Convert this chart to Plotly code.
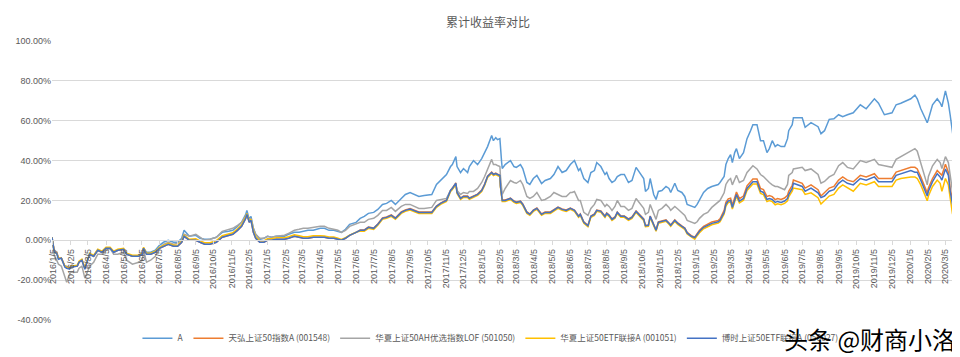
import plotly.graph_objects as go

title_text = "累计收益率对比"
series_names = ["A", "天弘上证50指数A (001548)", "华夏上证50AH优选指数LOF (501050)",
                "华夏上证50ETF联接A (001051)", "博时上证50ETF联接A (050027)"]
series_colors = ["#5B9BD5", "#ED7D31", "#A5A5A5", "#FFC000", "#4472C4"]

dates = [
    "2016-01-04", "2016-01-06", "2016-01-08", "2016-01-12", "2016-01-15", "2016-01-20", "2016-01-26", "2016-01-29",
    "2016-02-03", "2016-02-05", "2016-02-16", "2016-02-19", "2016-02-24", "2016-02-29", "2016-03-03", "2016-03-08",
    "2016-03-15", "2016-03-22", "2016-03-29", "2016-04-05", "2016-04-12", "2016-04-18", "2016-04-25", "2016-05-05",
    "2016-05-10", "2016-05-20", "2016-05-31", "2016-06-06", "2016-06-08", "2016-06-13", "2016-06-20", "2016-06-28",
    "2016-07-05", "2016-07-12", "2016-07-20", "2016-07-29", "2016-08-05", "2016-08-12", "2016-08-16", "2016-08-25",
    "2016-09-05", "2016-09-12", "2016-09-20", "2016-09-29", "2016-10-10", "2016-10-20", "2016-10-31", "2016-11-07",
    "2016-11-15", "2016-11-22", "2016-11-29", "2016-12-01", "2016-12-05", "2016-12-08", "2016-12-12", "2016-12-16",
    "2016-12-23", "2016-12-30",
    "2017-01-05", "2017-01-12", "2017-01-20", "2017-02-03", "2017-02-10", "2017-02-20", "2017-02-28", "2017-03-07",
    "2017-03-15", "2017-03-24", "2017-04-05", "2017-04-12", "2017-04-20", "2017-04-28", "2017-05-05", "2017-05-11",
    "2017-05-18", "2017-05-25", "2017-06-05", "2017-06-12", "2017-06-19", "2017-06-26", "2017-07-05", "2017-07-12",
    "2017-07-20", "2017-07-27", "2017-08-04", "2017-08-11", "2017-08-21", "2017-08-28", "2017-09-05", "2017-09-12",
    "2017-09-20", "2017-09-29", "2017-10-12", "2017-10-20", "2017-10-27", "2017-11-06", "2017-11-13", "2017-11-16",
    "2017-11-22", "2017-11-24", "2017-11-30", "2017-12-05", "2017-12-12", "2017-12-15", "2017-12-22", "2017-12-29",
    "2018-01-05", "2018-01-10", "2018-01-15", "2018-01-22", "2018-01-25", "2018-01-29", "2018-02-01", "2018-02-05",
    "2018-02-06", "2018-02-08", "2018-02-09", "2018-02-14", "2018-02-23", "2018-03-01", "2018-03-05", "2018-03-12",
    "2018-03-16", "2018-03-23", "2018-03-28", "2018-04-03", "2018-04-09", "2018-04-17", "2018-04-23", "2018-05-02",
    "2018-05-08", "2018-05-15", "2018-05-22", "2018-05-29", "2018-06-05", "2018-06-08", "2018-06-12", "2018-06-19",
    "2018-06-22", "2018-06-28", "2018-07-05", "2018-07-10", "2018-07-16", "2018-07-20", "2018-07-27", "2018-08-03",
    "2018-08-06", "2018-08-10", "2018-08-15", "2018-08-20", "2018-08-24", "2018-08-30", "2018-09-05", "2018-09-12",
    "2018-09-18", "2018-09-25", "2018-10-08", "2018-10-11", "2018-10-16", "2018-10-19", "2018-10-25", "2018-10-29",
    "2018-11-02", "2018-11-08", "2018-11-15", "2018-11-20", "2018-11-23", "2018-11-30", "2018-12-05", "2018-12-12",
    "2018-12-17", "2018-12-21", "2018-12-28",
    "2019-01-03", "2019-01-07", "2019-01-11", "2019-01-18", "2019-01-25", "2019-02-01", "2019-02-12", "2019-02-15",
    "2019-02-22", "2019-02-25", "2019-03-01", "2019-03-05", "2019-03-08", "2019-03-12", "2019-03-15", "2019-03-20",
    "2019-03-27", "2019-04-02", "2019-04-08", "2019-04-12", "2019-04-19", "2019-04-25", "2019-04-30", "2019-05-06",
    "2019-05-10", "2019-05-15", "2019-05-20", "2019-05-24", "2019-05-30", "2019-06-05", "2019-06-10", "2019-06-12",
    "2019-06-18", "2019-06-20", "2019-07-05", "2019-07-10", "2019-07-20", "2019-08-01", "2019-08-06", "2019-08-12",
    "2019-08-20", "2019-08-28", "2019-09-05", "2019-09-12", "2019-09-20", "2019-09-30", "2019-10-12", "2019-10-22",
    "2019-11-05", "2019-11-12", "2019-11-22", "2019-12-05", "2019-12-12", "2019-12-20",
    "2020-01-06", "2020-01-13", "2020-01-17", "2020-01-23", "2020-02-03", "2020-02-05", "2020-02-12", "2020-02-20",
    "2020-02-25", "2020-02-28", "2020-03-05", "2020-03-10", "2020-03-13", "2020-03-17", "2020-03-19", "2020-03-23",
]

a_vals = [
    1.5, -3, -6, -6, -9, -9, -13, -13,
    -14, -13, -13, -11, -10, -14, -11, -7,
    -8, -5, -6, -4, -4, -6, -5, -4.5,
    -7, -8, -8, -7, -4, -6, -6, -5,
    -2.5, -1, 0, -1, -1, 1, 5, 2,
    2.5, 1, 0.5, 0.5, 1.5, 4, 4.5, 5,
    7, 9, 13, 15, 10.5, 12, 6, 3,
    0.5, 1,
    2, 1.5, 2, 2, 3, 4, 4, 4.5,
    5, 5, 6, 6, 5, 5, 4.5, 4,
    5.5, 8, 9, 11, 12, 13.5, 14, 15.5,
    18, 18.5, 20, 18, 21, 23, 24, 23,
    22, 22.5, 23, 28, 30, 33, 37, 38,
    42, 37, 34, 36, 34, 37, 40, 38,
    41, 44, 47, 52.6, 50, 51.5, 50.5, 51,
    45, 39, 36, 38, 40, 37, 36.6, 38,
    36, 29, 28, 31, 32.6, 28.5, 30, 31,
    33, 37, 34, 35, 38, 39, 40, 35,
    36, 31, 29, 34, 35, 39, 37, 33,
    34, 31, 29, 30, 32, 33, 33, 29,
    30, 36.6, 31, 24.5, 26, 31, 23, 20.5,
    24.5, 25, 27, 26, 24, 28.6, 25, 24,
    22, 18, 17,
    16.5, 18, 20.5, 24, 26, 27, 28, 29,
    32, 38, 41, 43, 39, 44, 46, 41,
    44, 51, 55, 58, 58, 50, 50, 44,
    46, 50, 47, 48, 47, 47, 51, 55,
    58, 61.5, 61.5, 56.7, 59, 57, 53.5, 55,
    60.7, 61, 63, 62, 63, 64, 68, 66,
    71, 68.8, 63, 64, 68, 68.8,
    71, 72.8, 71, 66, 59, 60.7, 68, 71,
    69, 67, 75, 68.8, 63, 52, 50, 59,
]

th_vals = [
    1.5, -3, -6, -6, -9, -9, -13, -13.5,
    -14, -13, -13, -11, -10, -14, -11, -7,
    -8, -5, -6, -4, -4, -6, -5, -4.5,
    -7, -8, -8, -7, -4, -7, -7, -6,
    -4, -3, -2, -3, -3, -1, 2, 0,
    0, -1, -2, -2, -1, 1.5, 2.5, 3,
    5, 7, 11, 13, 9, 10, 4, 1,
    -1, -1,
    0, 0, 0.5, 0.5, 1, 2, 1.5, 1,
    1, 1.5, 1.5, 1.5, 1, 1, 0.5, 0,
    1, 2.5, 4, 5.2, 5.2, 6.7, 6.2, 8.2,
    11.2, 11.7, 12.7, 11.2, 14.2, 15.2, 15.9, 15.2,
    14.2, 14.2, 14.2, 17.2, 18.7, 20.2, 25.2, 26.2,
    28.8, 24.2, 21.2, 22.2, 22.2, 21.2, 22.2, 23.2,
    25.2, 28.2, 32.2, 34.2, 33.2, 33.7, 33.2, 32.7,
    27.2, 22.2, 20.2, 20.2, 21.2, 19.7, 19.2, 19.7,
    18.2, 14.2, 13.2, 15.2, 16.2, 13.2, 14.2, 14.2,
    15.2, 16.7, 15.7, 15.2, 16.2, 15.7, 15.2, 12.2,
    13.2, 9.2, 7.5, 12.2, 13.2, 15.2, 14.7, 12.2,
    13.7, 12.7, 10.7, 11.7, 14.2, 12.2, 12.2, 10.7,
    11.7, 14.7, 10.7, 7.5, 7.7, 12.2, 7.7, 5.2,
    9.2, 9.7, 10.2, 8.7, 7.7, 10.2, 8.7, 7.2,
    6.2, 4, 2.3,
    1.6, 3.4, 5, 7, 8.3, 9.2, 10, 10.8,
    15, 19, 20.8, 21.1, 17.6, 21.2, 24.2, 20.9,
    22.2, 27.3, 29.1, 30.8, 30.8, 26, 25.4, 21.9,
    22.4, 21.9, 20.4, 20.9, 20.5, 21.2, 22.6, 24.6,
    27.6, 30.2, 28.6, 26.2, 27.8, 25.4, 22.2, 23.8,
    26.2, 27, 30.2, 31.8, 30.2, 29.4, 32.6, 31.8,
    33.4, 31, 31, 31, 34.2, 35,
    36.6, 36.6, 35.8, 31.8, 23.8, 26.2, 31, 35,
    33.4, 32.6, 38.2, 34.2, 26.2, 19.8, 17.3, 22,
]

ah_vals = [
    1.5, -4, -8, -10, -12, -13, -18, -21,
    -17, -16, -16, -14, -13, -19, -17, -13,
    -11, -7, -7, -5, -4, -7, -7, -6,
    -10, -12, -11, -10, -5, -11, -10, -8,
    -4, -2, -1, -2, -1.5, 0, 3, 2,
    3, 1.5, 0, 0.5, 1.5, 4.5, 5.5, 6,
    7.5, 9, 12, 13, 10, 11, 6, 3,
    1, 1,
    2, 1.5, 2, 2.5, 3.5, 5, 5.5, 6,
    6, 6.5, 7, 7, 6, 5.5, 5, 4,
    5, 7, 8, 9, 9, 10.5, 11, 12.5,
    15, 15, 16.5, 14.5, 17, 18, 18, 17,
    16, 16, 16.5, 20, 20.5, 21, 25, 26,
    28, 25, 23, 24, 23.5, 24.5, 24.5, 26,
    29, 32, 36, 40.6, 38, 38, 37.5, 37,
    32, 26, 23, 26, 30, 29, 28.6, 30,
    28, 22, 21, 22, 24, 20, 20.5, 22,
    24, 23, 22, 22, 24, 24, 24.5, 20,
    20, 14, 12.5, 16, 18, 20.5, 20, 17,
    18, 17, 15, 17, 20, 17, 17, 15,
    16, 21, 16, 13, 14, 18, 14, 10.5,
    15, 16, 18, 16.5, 15, 17, 15.7, 14,
    12.5, 10, 9,
    8.5, 9.3, 11, 13, 14, 16.5, 19, 20,
    23.8, 28, 30, 31, 27.8, 31, 32.6, 29,
    30, 34, 35.8, 37.4, 35.8, 33, 32, 30,
    29, 27.8, 27, 27, 26, 25.4, 28, 32.6,
    34, 35.8, 36.6, 35, 35.8, 33, 28.6, 29.5,
    31.8, 33, 37.4, 39, 36.6, 35.8, 40, 39,
    40.6, 38, 37.4, 36.6, 40.6, 42,
    44.7, 46, 44.7, 39, 27.8, 32, 37.4, 40.6,
    39, 36, 42, 39, 31.8, 24.6, 21.4, 27,
]

hx_vals = [
    1.5, -3, -6, -6.5, -9, -9, -13, -13.5,
    -14, -13, -12.5, -10.5, -9.5, -14, -11, -6.5,
    -7.5, -4.5, -5.5, -3.5, -3.5, -5.5, -4.5, -4,
    -6.5, -7.5, -7.5, -6.5, -3.5, -6.5, -6.5, -5.5,
    -3.5, -2.5, -1.5, -2.5, -2.5, -0.5, 2.5, 0.5,
    0.8, -0.3, -1.2, -1.2, -0.2, 2.3, 3.3, 3.8,
    5.8, 7.8, 11.8, 13.5, 9.5, 10.5, 4.8, 1.8,
    -0.2, -0.3,
    0.8, 0.8, 1.3, 1.3, 1.8, 2.8, 2.3, 1.8,
    1.8, 2.3, 2.3, 2.2, 1.7, 1.6, 1, 0.4,
    1.3, 2.6, 4, 4.7, 4.6, 6, 5.5, 7.5,
    10.5, 11, 12, 10.5, 13.5, 14.5, 15.2, 14.5,
    13.5, 13.5, 13.5, 16.5, 18, 19.5, 24.5, 25.5,
    28, 23.5, 20.5, 21.5, 21.5, 20.5, 21.5, 22.5,
    24.5, 27.5, 31.5, 33.5, 32.5, 33, 32.5, 32,
    26.5, 21.5, 19.5, 19.5, 20.5, 19, 18.5, 19,
    17.5, 13.5, 12.5, 14.5, 15.5, 12.5, 13.5, 13.5,
    14.5, 16, 15, 14.5, 15.5, 15, 14.5, 11.5,
    12.5, 8.5, 6.8, 11.5, 12.5, 14.5, 14, 11.5,
    13, 12, 10, 11, 13.5, 11.5, 11.5, 10,
    11, 14, 10, 6.8, 7, 11.5, 7, 4.5,
    8.5, 9, 9.5, 8, 7, 9.5, 8, 6.5,
    5.5, 3.2, 1.5,
    0.5, 2.3, 3.8, 5.8, 7, 7.8, 8.6, 9.3,
    13.2, 17.2, 18.9, 19.2, 15.7, 19.1, 22.1, 18.8,
    20.1, 25, 26.8, 28.3, 28.3, 23.5, 22.9, 19.4,
    19.9, 19.4, 17.8, 18.3, 17.8, 18.5, 19.8, 21.8,
    24.6, 26.2, 25.4, 23, 23.8, 21.4, 18.2, 19.8,
    22.2, 23, 26.2, 27.8, 26.2, 24.6, 28.6, 27.8,
    29.4, 27, 27, 27, 30.2, 31,
    31.8, 31.8, 31, 27.8, 19.8, 22.2, 27, 30.2,
    28.6, 24.6, 31, 27.8, 21.4, 13.3, 12.5, 15.5,
]

bs_vals = [
    1.5, -3, -6, -6.5, -9.5, -9, -13.5, -14,
    -14.5, -13.5, -13, -11, -10, -14.5, -11.5, -7,
    -8, -5, -6, -4, -4, -6, -5, -4.5,
    -7, -8, -8, -7, -4, -7, -7, -6,
    -4, -3, -2, -3, -3, -1, 2, 0,
    0, -1, -2, -2, -1, 1.5, 2.5, 3,
    5, 7, 11, 13, 9, 10, 4, 1,
    -1, -1,
    0, 0, 0.5, 0.5, 1, 2, 1.5, 1,
    1, 1.5, 1.5, 1.5, 1, 1, 0.5, 0,
    1, 2.5, 4, 5, 5, 6.5, 6, 8,
    11, 11.5, 12.5, 11, 14, 15, 15.7, 15,
    14, 14, 14, 17, 18.5, 20, 25, 26,
    28.6, 24, 21, 22, 22, 21, 22, 23,
    25, 28, 32, 34, 33, 33.5, 33, 32.5,
    27, 22, 20, 20, 21, 19.5, 19, 19.5,
    18, 14, 13, 15, 16, 13, 14, 14,
    15, 16.5, 15.5, 15, 16, 15.5, 15, 12,
    13, 9, 7.3, 12, 13, 15, 14.5, 12,
    13.5, 12.5, 10.5, 11.5, 14, 12, 12, 10.5,
    11.5, 14.5, 10.5, 7.3, 7.5, 12, 7.5, 5,
    9, 9.5, 10, 8.5, 7.5, 10, 8.5, 7,
    6, 3.7, 2,
    1.3, 3, 4.5, 6.5, 7.7, 8.5, 9.3, 10,
    14, 18, 19.7, 20, 16.5, 20, 23, 19.7,
    21, 26, 27.8, 29.4, 29.4, 24.6, 24, 20.5,
    21, 20.5, 19, 19.5, 19, 19.7, 21, 23,
    26, 28.6, 27, 24.6, 26.2, 23.8, 21.4, 22.2,
    24.6, 25.4, 28.6, 30.2, 28.6, 27.8, 31, 30.2,
    31.8, 29.4, 29.4, 29.4, 32.6, 33.4,
    35, 34.2, 34.2, 30.2, 22.2, 24.6, 29.4, 33.4,
    31.8, 30.2, 35.8, 32.6, 24.6, 18.2, 16.5, 20,
]

y_ticks = [-40, -20, 0, 20, 40, 60, 80, 100]
y_tick_text = ["-40.00%", "-20.00%", "0.00%", "20.00%", "40.00%", "60.00%", "80.00%", "100.00%"]
x_tick_dates = []
x_tick_text = []
for yr in range(2016, 2021):
    for mo in range(1, 13):
        if yr == 2020 and mo > 3:
            break
        x_tick_dates.append(f"{yr}-{mo:02d}-05")
        x_tick_text.append(f"{yr}/{mo}/5")

all_series = [a_vals, th_vals, ah_vals, hx_vals, bs_vals]

FONT = "Liberation Sans, Noto Sans CJK SC, sans-serif"
CJK = "Noto Sans CJK SC, sans-serif"
GRAY = "#595959"

fig = go.Figure()
for name, vals, col in zip(series_names, all_series, series_colors):
    fig.add_trace(go.Scatter(x=dates, y=vals, mode="lines", name=name,
                             line=dict(color=col, width=1.5)))

y_min, y_max = -40, 100
fig.update_layout(
    width=960, height=357,
    margin=dict(l=44, r=12, t=33, b=33),
    paper_bgcolor="white", plot_bgcolor="white",
    font=dict(family=FONT, size=9, color=GRAY),
    showlegend=True,
    legend=dict(orientation="h", x=0.485, xanchor="center", y=-0.065, yanchor="middle",
                font=dict(family=CJK, size=8.5, color=GRAY), itemwidth=30,
                bgcolor="rgba(0,0,0,0)"),
    xaxis=dict(type="date", range=["2016-01-04", "2020-03-23"],
               anchor="free", position=(0 - y_min) / (y_max - y_min),
               tickvals=x_tick_dates, ticktext=x_tick_text, tickangle=-90,
               tickfont=dict(family=FONT, size=9, color=GRAY),
               showgrid=False, showline=True, linecolor="#D9D9D9", linewidth=1,
               ticks="outside", ticklen=4, tickcolor="#D9D9D9",
               zeroline=False, automargin=False),
    yaxis=dict(range=[y_min, y_max], tickvals=y_ticks, ticktext=y_tick_text,
               showgrid=True, gridcolor="#D9D9D9", gridwidth=1, zeroline=False,
               showline=False, ticks="", tickfont=dict(family=FONT, size=9, color=GRAY),
               automargin=False),
)

# chart title placed at ~12 px from top of the page
fig.add_annotation(text=title_text, xref="paper", yref="paper",
                   x=(480 - 44) / 904, xanchor="center", y=1 + (33 - 13) / 291, yanchor="middle",
                   showarrow=False, font=dict(family=CJK, size=12, color=GRAY))

fig.add_annotation(text="头条 @财商小洛", xref="paper", yref="paper",
                   x=(950 - 44) / 904, xanchor="right", y=-0.068, yanchor="middle",
                   showarrow=False, font=dict(family=CJK, size=24, color="black"))

fig.write_html("out.html")
